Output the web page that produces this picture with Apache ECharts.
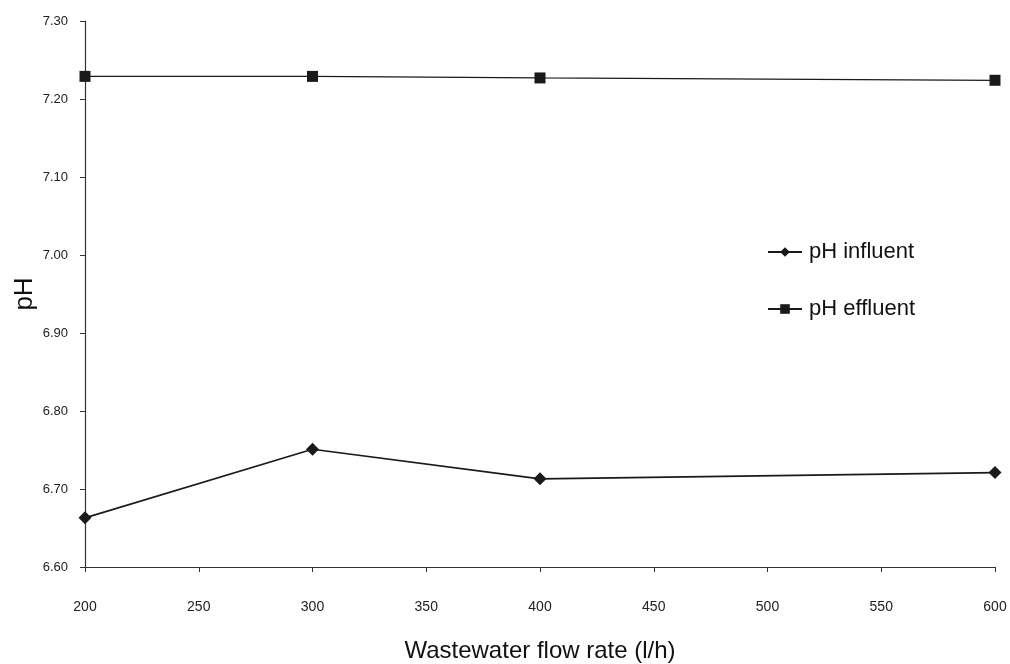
<!DOCTYPE html>
<html>
<head>
<meta charset="utf-8">
<script src="https://cdn.jsdelivr.net/npm/echarts@6/dist/echarts.min.js"></script>
<style>
html,body{margin:0;padding:0;background:#fff;}
#chart{width:1010px;height:664px;}
</style>
</head>
<body>
<div id="chart"></div>
<script>
const flowRates = [200, 300, 400, 600];
const phInfluent = [6.663, 6.751, 6.713, 6.721];
const phEffluent = [7.229, 7.229, 7.227, 7.224];
const seriesNames = ['pH influent', 'pH effluent'];
const xTitle = 'Wastewater flow rate (l/h)';
const yTitle = 'pH';

const chart = echarts.init(document.getElementById('chart'), null, {renderer: 'canvas'});
const font = 'Liberation Sans, Arial, sans-serif';
const ink = '#1a1a1a';
chart.setOption({
  backgroundColor: '#fff',
  animation: false,
  grid: {left: 85, right: 15, top: 21, bottom: 97, containLabel: false, outerBoundsMode: 'none'},
  legend: {
    orient: 'vertical',
    left: 762,
    top: 236,
    itemGap: 35,
    itemWidth: 34,
    itemHeight: 12,
    textStyle: {fontFamily: font, fontSize: 22, color: '#111', padding: [0, 0, 0, 2]},
    data: seriesNames
  },
  xAxis: {
    type: 'value',
    min: 200, max: 600, interval: 50,
    name: xTitle,
    nameLocation: 'middle',
    nameGap: 72,
    nameMoveOverlap: false,
    nameTextStyle: {fontFamily: font, fontSize: 24, color: '#111'},
    axisLine: {show: true, onZero: false, lineStyle: {color: '#333', width: 1.2}},
    axisTick: {show: true, length: 5, lineStyle: {color: '#333'}},
    axisLabel: {fontFamily: font, fontSize: 14, color: '#222', margin: 33},
    splitLine: {show: false}
  },
  yAxis: {
    type: 'value',
    min: 6.6, max: 7.3, interval: 0.1,
    name: yTitle,
    nameLocation: 'middle',
    nameGap: 47,
    nameRotate: 90,
    nameMoveOverlap: false,
    nameTextStyle: {fontFamily: font, fontSize: 26, color: '#111'},
    axisLine: {show: true, lineStyle: {color: '#333', width: 1.2}},
    axisTick: {show: true, length: 5, lineStyle: {color: '#333'}},
    axisLabel: {fontFamily: font, fontSize: 13, color: '#222', margin: 17,
      formatter: v => v.toFixed(2)},
    splitLine: {show: false}
  },
  series: [
    {
      name: seriesNames[0], type: 'line',
      data: flowRates.map((x, i) => [x, phInfluent[i]]),
      symbol: 'diamond', symbolSize: 13,
      lineStyle: {color: ink, width: 1.6},
      itemStyle: {color: ink}
    },
    {
      name: seriesNames[1], type: 'line',
      data: flowRates.map((x, i) => [x, phEffluent[i]]),
      symbol: 'rect', symbolSize: 11,
      lineStyle: {color: ink, width: 1.2},
      itemStyle: {color: ink}
    }
  ]
});
</script>
</body>
</html>
